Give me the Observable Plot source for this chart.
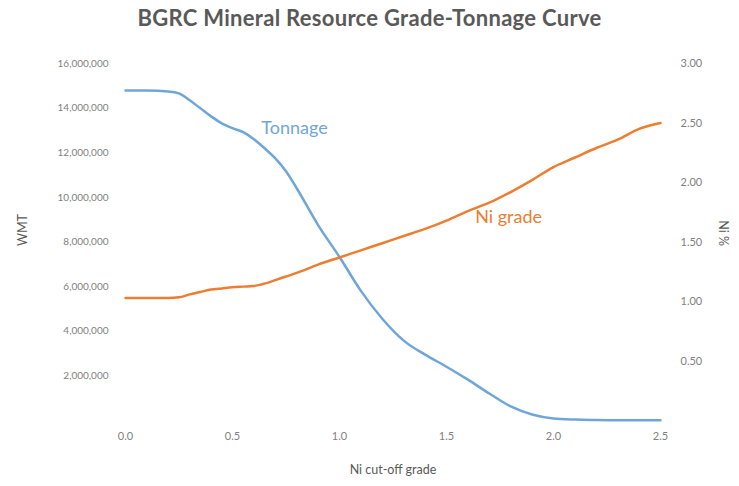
<!DOCTYPE html>
<html>
<head>
<meta charset="utf-8">
<script src="https://cdn.jsdelivr.net/npm/d3@7"></script>
<script src="https://cdn.jsdelivr.net/npm/@observablehq/plot@0.6"></script>
<style>
  html, body { margin: 0; padding: 0; background: #fff; }
  #title { height: 36px; line-height: 36px; text-align: center; font-family: Lato, "Open Sans", sans-serif; font-weight: bold; font-size: 22px; letter-spacing: 0.3px; color: #595959; }
</style>
</head>
<body>
<div id="title">BGRC Mineral Resource Grade-Tonnage Curve</div>
<div id="chart"></div>
<script>
const cutoff = [0.0, 0.1, 0.2, 0.25, 0.3, 0.35, 0.4, 0.45, 0.5, 0.55, 0.6, 0.65, 0.7, 0.75, 0.8, 0.9, 1.0, 1.1, 1.2, 1.3, 1.4, 1.5, 1.6, 1.7, 1.8, 1.9, 2.0, 2.1, 2.2, 2.3, 2.4, 2.5];
const tonnage = [14790000, 14790000, 14750000, 14660000, 14350000, 13990000, 13630000, 13320000, 13100000, 12920000, 12600000, 12200000, 11750000, 11170000, 10410000, 8760000, 7330000, 5810000, 4560000, 3580000, 2950000, 2410000, 1830000, 1210000, 630000, 270000, 90000, 40000, 20000, 10000, 10000, 10000];
const niGrade = [1.03, 1.03, 1.03, 1.035, 1.06, 1.08, 1.10, 1.11, 1.12, 1.125, 1.13, 1.15, 1.18, 1.21, 1.24, 1.31, 1.37, 1.43, 1.49, 1.55, 1.61, 1.68, 1.76, 1.83, 1.92, 2.02, 2.13, 2.21, 2.29, 2.36, 2.45, 2.50];
const leftTicks = [2000000, 4000000, 6000000, 8000000, 10000000, 12000000, 14000000, 16000000];
const rightTicks = [0.5, 1.0, 1.5, 2.0, 2.5, 3.0];
const xTicks = [0, 0.5, 1.0, 1.5, 2.0, 2.5];
const seriesLabels = [
  {text: "Tonnage", x: 0.79, y: 13100000, series: "t"},
  {text: "Ni grade", x: 1.79, y: 9120000, series: "g"}
];

const tMax = 16000000, gMax = 3.0, k = tMax / gMax;
const blue = "#6FA6DA", orange = "#ED7D31", grey = "#7f7f7f";
const tData = cutoff.map((c, i) => ({x: c, y: tonnage[i]}));
const gData = cutoff.map((c, i) => ({x: c, y: niGrade[i] * k}));
const font = "Lato, 'Open Sans', sans-serif";

const chart = Plot.plot({
  width: 739,
  height: 450,
  marginTop: 27,
  marginBottom: 66,
  marginLeft: 125,
  marginRight: 79,
  style: {fontFamily: font, color: grey, background: "#fff"},
  x: {domain: [0, 2.5]},
  y: {domain: [0, tMax]},
  marks: [
    Plot.axisX({ticks: xTicks, tickSize: 0, tickPadding: 12, tickFormat: d3.format(".1f"), fontSize: 11, label: null}),
    Plot.axisY({ticks: leftTicks, tickSize: 0, tickPadding: 17, tickFormat: d3.format(","), fontSize: 10, label: null}),
    Plot.axisY({anchor: "right", ticks: rightTicks.map(v => v * k), tickSize: 0, tickPadding: 20, tickFormat: d => (d / k).toFixed(2), fontSize: 11, label: null}),
    Plot.line(tData, {x: "x", y: "y", stroke: blue, strokeWidth: 2.5, curve: "monotone-x"}),
    Plot.line(gData, {x: "x", y: "y", stroke: orange, strokeWidth: 2.5, curve: "monotone-x"}),
    Plot.text(seriesLabels, {x: "x", y: "y", text: "text", fill: d => d.series === "t" ? blue : orange, fontSize: 18}),
    Plot.text(["Ni cut-off grade"], {frameAnchor: "bottom", dy: 53, fontSize: 12.5, fill: "#595959"}),
    Plot.text(["WMT"], {frameAnchor: "left", dx: -103, dy: 4, rotate: -90, fontSize: 12.5, fill: "#595959"}),
    Plot.text(["Ni %"], {frameAnchor: "right", dx: 62, dy: 4, rotate: 90, fontSize: 12.5, fill: "#595959"})
  ]
});
document.getElementById("chart").appendChild(chart);
</script>
</body>
</html>
